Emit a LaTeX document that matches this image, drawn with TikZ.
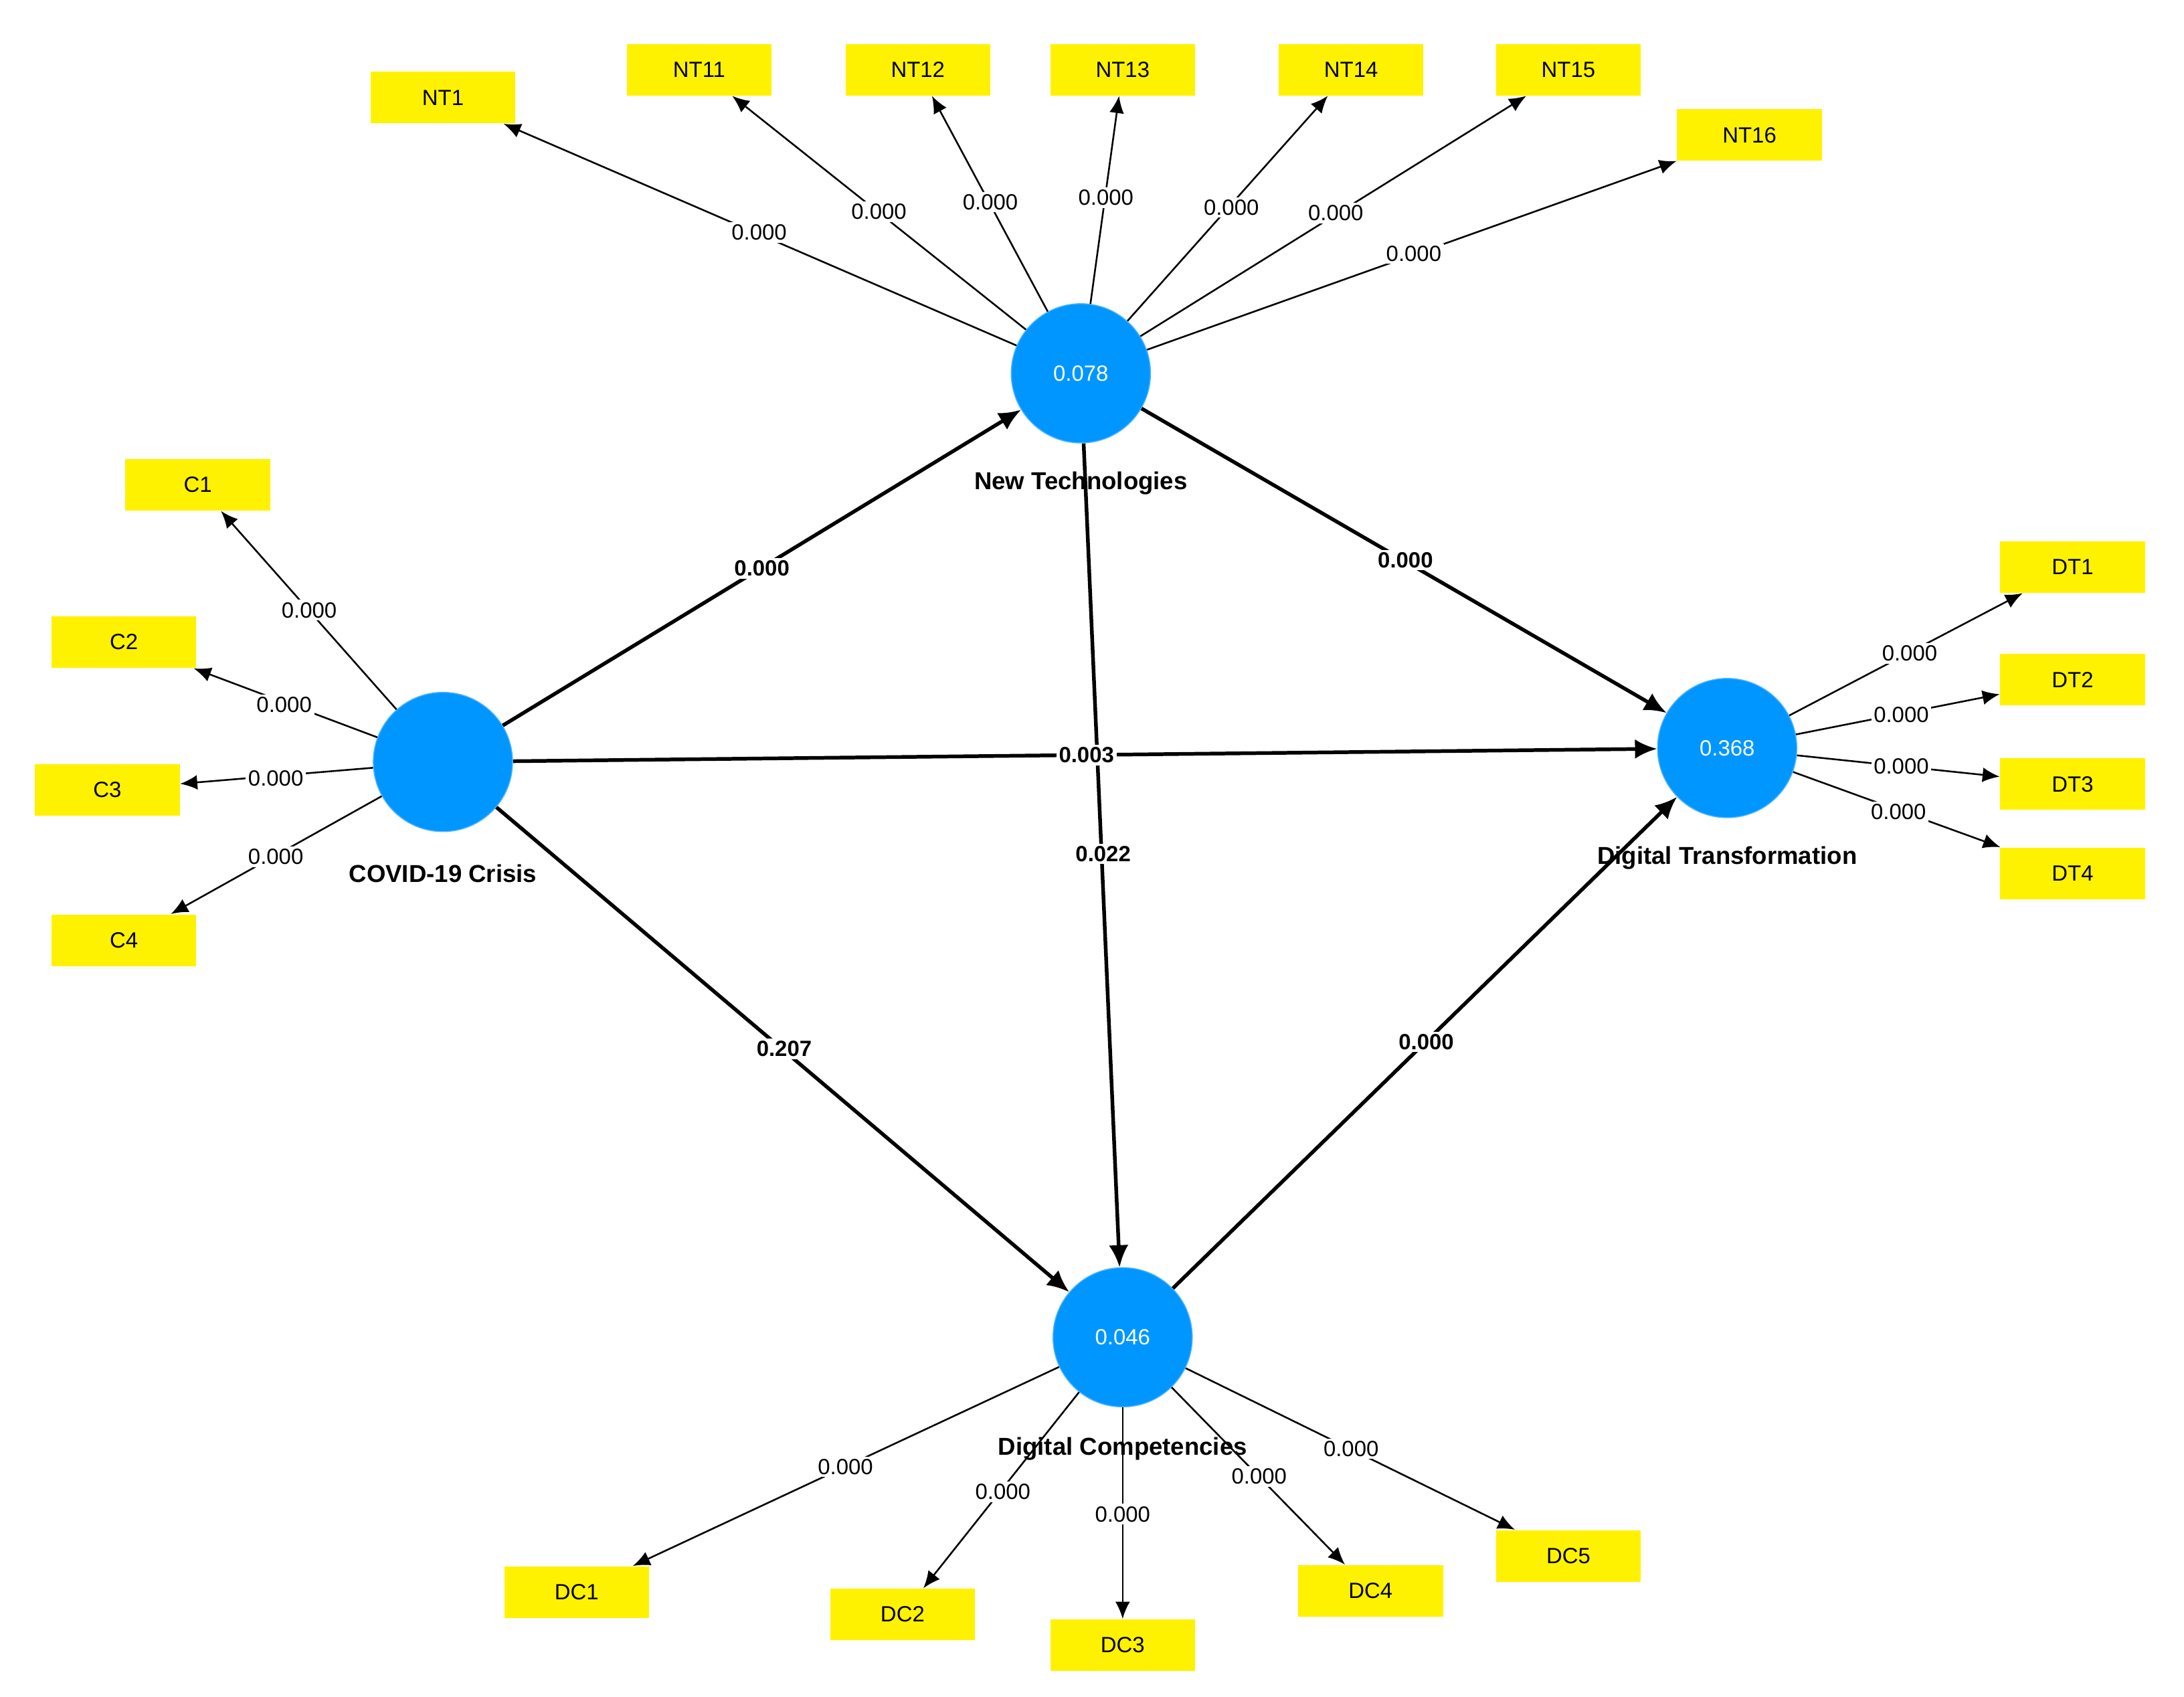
\documentclass[tikz,border=0pt]{standalone}
\usepackage{fontspec}
\setmainfont{Liberation Sans}
\usetikzlibrary{arrows.meta}
\begin{document}
\begin{tikzpicture}[x=0.02cm,y=-0.02cm,
  lv/.style={circle,fill={rgb,255:red,0;green,150;blue,255},draw={rgb,255:red,80;green,180;blue,255},minimum size=2cm,inner sep=0pt,text=white,font=\fontsize{9}{10}\selectfont},
  ind/.style={rectangle,fill=yellow,minimum width=2.08cm,minimum height=0.74cm,inner sep=0pt,font=\fontsize{9}{10}\selectfont},
  nm/.style={font=\bfseries\fontsize{10}{12}\selectfont},
  ol/.style={-{Latex[length=7pt,width=6pt]},line width=0.7pt},
  sl/.style={-{Latex[length=9pt,width=8pt]},line width=1.5pt},
  ov/.style={fill=white,inner sep=1pt,font=\fontsize{9}{10}\selectfont},
  sv/.style={fill=white,inner sep=1pt,font=\bfseries\fontsize{9}{10}\selectfont}]
\useasboundingbox (0,0) rectangle (1568,1218);
\node[lv] (NT) at (776,268) {0.078};
\node[lv] (CV) at (318,547) {};
\node[lv] (DT) at (1240,537) {0.368};
\node[lv] (DC) at (806,960) {0.046};
\node[nm] (nNT) at (776,347) {New Technologies};
\node[nm] (nCV) at (318,627) {COVID-19 Crisis};
\node[nm] (nDT) at (1240,616) {Digital Transformation};
\node[nm] (nDC) at (806,1040) {Digital Competencies};
\foreach \n/\x/\y in {NT1/318/70,NT11/502/50,NT12/659/50,NT13/806/50,NT14/970/50,NT15/1126/50,NT16/1256/97,
  C1/142/348,C2/89/461,C3/77/567,C4/89/675,DT1/1488/407,DT2/1488/488,DT3/1488/563,DT4/1488/627,
  DC1/414/1143,DC2/648/1159,DC3/806/1181,DC4/984/1142,DC5/1126/1117}
  \node[ind] (\n) at (\x,\y) {\n};
% outer loadings
\foreach \a/\b in {NT/NT1,NT/NT11,NT/NT12,NT/NT13,NT/NT14,NT/NT15,NT/NT16,CV/C1,CV/C2,CV/C3,CV/C4,DT/DT1,DT/DT2,DT/DT3,DT/DT4,DC/DC1,DC/DC2,DC/DC3,DC/DC4,DC/DC5}
  \draw[ol] (\a) -- (\b);
\foreach \x/\y in {545/167,631/152,711/145,794/142,884/149,959/153,1015/182,
  222/438,204/506,198/559,198/615,1371/469,1365/513,1365/550,1363/583,
  607/1053,720/1071,806/1087,904/1060,970/1040}
  \node[ov] at (\x,\y) {0.000};
% structural
\draw[sl] (CV) -- (NT);
\draw[sl] (NT) -- (DT);
\draw[sl] (CV) -- (DT);
\draw[sl] (NT.south) ++(2,0) -- (DC);
\draw[sl] (CV) -- (DC);
\draw[sl] (DC) -- (DT);
\node[sv] at (547,408) {0.000};
\node[sv] at (1009,402) {0.000};
\node[sv] at (780,542) {0.003};
\node[sv] at (792,613) {0.022};
\node[sv] at (563,753) {0.207};
\node[sv] at (1024,748) {0.000};
\end{tikzpicture}
\end{document}
